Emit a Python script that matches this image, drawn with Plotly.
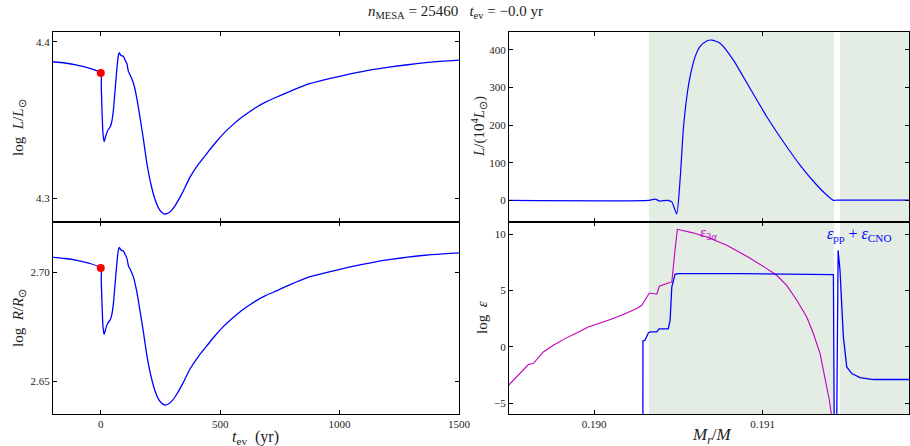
import plotly.graph_objects as go

# ---------------- data ----------------
t_ev = [-200, -150, -100, -50, 0, 2, 5, 9, 14, 22, 32, 39, 46, 53, 60, 67, 74, 78, 83, 88,
        92, 97, 102, 109, 116, 123, 137, 151, 165, 179, 193, 210, 228, 245, 260, 270, 285,
        300, 312, 340, 375, 410, 445, 480, 515, 550, 585, 620, 655, 690, 725, 795, 865, 935,
        1005, 1075, 1145, 1215, 1285, 1360, 1430, 1500]
log_L = [4.3872, 4.3864, 4.3851, 4.3832, 4.3800, 4.3720, 4.3570, 4.3420, 4.3362, 4.3405,
         4.3441, 4.3454, 4.3489, 4.3564, 4.3692, 4.3819, 4.3915, 4.3930, 4.3915, 4.3909,
         4.3910, 4.3900, 4.3883, 4.3862, 4.3809, 4.3787, 4.3735, 4.3639, 4.3510, 4.3373,
         4.3224, 4.3090, 4.2989, 4.2930, 4.2905, 4.2900, 4.2908, 4.2930, 4.2955, 4.3030,
         4.3139, 4.3220, 4.3288, 4.3355, 4.3415, 4.3466, 4.3511, 4.3550, 4.3585, 4.3614,
         4.3639, 4.3685, 4.3728, 4.3756, 4.3781, 4.3804, 4.3824, 4.3840, 4.3853, 4.3866,
         4.3876, 4.3883]
log_R = [2.7068, 2.7063, 2.7055, 2.7042, 2.7020, 2.6967, 2.6862, 2.6757, 2.6716, 2.6747,
         2.6772, 2.6781, 2.6805, 2.6858, 2.6947, 2.7036, 2.7104, 2.7114, 2.7104, 2.7099,
         2.7100, 2.7093, 2.7081, 2.7066, 2.7029, 2.7014, 2.6978, 2.6910, 2.6820, 2.6724,
         2.6620, 2.6526, 2.6455, 2.6414, 2.6397, 2.6393, 2.6399, 2.6414, 2.6432, 2.6484,
         2.6560, 2.6617, 2.6665, 2.6712, 2.6754, 2.6789, 2.6821, 2.6848, 2.6873, 2.6893,
         2.6910, 2.6945, 2.6976, 2.6996, 2.7015, 2.7032, 2.7047, 2.7059, 2.7069, 2.7078,
         2.7084, 2.7089]
t_now = [0.0]
L_now = [4.3800]
R_now = [2.7020]

m_L = [0.18940, 0.190326, 0.190362, 0.190391, 0.190439, 0.190462, 0.190490, 0.190510,
       0.190529, 0.190550, 0.190569, 0.190599, 0.190628, 0.190668, 0.190698, 0.190747,
       0.190826, 0.190925, 0.191024, 0.191122, 0.191221, 0.191320, 0.191379, 0.191419,
       0.191440, 0.191900]
L_1e4 = [0, 0, 3, -2, 0, -5, -36, 54, 187, 275, 328, 381, 408, 423, 425.6, 417, 372.5,
         297, 222, 155.6, 93.7, 40.6, 14, 0, 0.5, 0.5]

m_3a = [0.189490, 0.189561, 0.189611, 0.189640, 0.189699, 0.189759, 0.189828, 0.189897,
        0.189966, 0.190036, 0.190114, 0.190194, 0.190253, 0.190283, 0.190302, 0.190328,
        0.190372, 0.190387, 0.190440, 0.190461, 0.190480, 0.190494, 0.190580, 0.190668,
        0.190787, 0.190905, 0.191024, 0.191083, 0.191142, 0.191202, 0.191261, 0.191300,
        0.191340, 0.191369, 0.191395, 0.191409, 0.191420]
eps_3a = [-3.46, -2.36, -1.56, -1.47, -0.44, 0.15, 0.74, 1.24, 1.78, 2.13, 2.52, 3.02, 3.41,
          3.70, 4.14, 4.79, 4.68, 5.39, 5.68, 5.77, 8.58, 10.44, 10.15, 9.76, 9.02, 8.05,
          6.95, 6.36, 5.47, 4.14, 2.66, 1.19, -0.59, -2.66, -4.73, -6.2, -8.0]

m_pp = [0.1902895, 0.190290, 0.190302, 0.190322, 0.190332, 0.190372, 0.190385, 0.190440,
        0.190451, 0.190461, 0.190480, 0.190498, 0.190865, 0.191419, 0.191424, 0.191438,
        0.191447, 0.191458, 0.191478, 0.191498, 0.191528, 0.191577, 0.191656, 0.191900]
eps_pp = [-8.0, 0.53, 0.60, 1.24, 1.33, 1.33, 1.60, 1.60, 2.37, 5.32, 6.45, 6.51, 6.50, 6.42,
          -8.0, -8.0, 8.58, 6.80, 0.89, -1.77, -2.36, -2.72, -2.89, -2.89]

conv_zones = [(0.190326, 0.191423), (0.191458, 0.19200)]

# ---------------- figure ----------------
FONT = "Liberation Serif"
BLUE = "#0000ff"
MAG = "#bf00bf"
SHADE = "#e4ede4"
TXT = "#222"

fig = go.Figure()
fig.add_trace(go.Scatter(x=t_ev, y=log_L, mode="lines",
                         line=dict(color=BLUE, width=1.3, shape="spline", smoothing=0.6),
                         xaxis="x", yaxis="y", showlegend=False))
fig.add_trace(go.Scatter(x=t_now, y=L_now, mode="markers", marker=dict(color="#ff0000", size=8),
                         xaxis="x", yaxis="y", showlegend=False))
fig.add_trace(go.Scatter(x=t_ev, y=log_R, mode="lines",
                         line=dict(color=BLUE, width=1.3, shape="spline", smoothing=0.6),
                         xaxis="x2", yaxis="y2", showlegend=False))
fig.add_trace(go.Scatter(x=t_now, y=R_now, mode="markers", marker=dict(color="#ff0000", size=8),
                         xaxis="x2", yaxis="y2", showlegend=False))
fig.add_trace(go.Scatter(x=m_L, y=L_1e4, mode="lines",
                         line=dict(color=BLUE, width=1.2, shape="spline", smoothing=0.6),
                         xaxis="x3", yaxis="y3", showlegend=False))
fig.add_trace(go.Scatter(x=m_3a, y=eps_3a, mode="lines", line=dict(color=MAG, width=1.1),
                         xaxis="x4", yaxis="y4", showlegend=False))
fig.add_trace(go.Scatter(x=m_pp, y=eps_pp, mode="lines", line=dict(color=BLUE, width=1.3),
                         xaxis="x4", yaxis="y4", showlegend=False))

for (a, b) in conv_zones:
    for xr, yr in (("x3", "y3 domain"), ("x4", "y4 domain")):
        fig.add_shape(type="rect", xref=xr, yref=yr, x0=a, x1=b, y0=0, y1=1,
                      fillcolor=SHADE, line=dict(width=0), layer="below")

W, H = 910, 446
LX = [53 / W, 459 / W]
RX = [509 / W, 909 / W]
TOP = [1 - 222 / H, 1 - 32 / H]
BOT = [1 - 414 / H, 1 - 222 / H]

tickfont = dict(family=FONT, size=11, color=TXT)


def ax(**kw):
    d = dict(showline=True, linecolor="black", linewidth=1, mirror="allticks",
             ticks="inside", ticklen=4, tickcolor="black", showgrid=False, zeroline=False,
             tickfont=tickfont, automargin=False)
    d.update(kw)
    return d


fig.update_layout(
    width=W, height=H, margin=dict(l=0, r=0, t=0, b=0, autoexpand=False),
    paper_bgcolor="white", plot_bgcolor="white",
    font=dict(family=FONT),
    xaxis=ax(domain=LX, anchor="y", range=[-200, 1500], tickvals=[0, 500, 1000, 1500],
             showticklabels=False),
    yaxis=ax(domain=TOP, anchor="x", range=[4.2849, 4.4062], tickvals=[4.3, 4.4],
             tickformat=".1f"),
    xaxis2=ax(domain=LX, anchor="y2", range=[-200, 1500], tickvals=[0, 500, 1000, 1500]),
    yaxis2=ax(domain=BOT, anchor="x2", range=[2.6352, 2.723], tickvals=[2.65, 2.70],
              tickformat=".2f"),
    xaxis3=ax(domain=RX, anchor="y3", range=[0.189496, 0.191867], tickvals=[0.190, 0.191],
              showticklabels=False),
    yaxis3=ax(domain=TOP, anchor="x3", range=[-57.6, 447], tickvals=[0, 100, 200, 300, 400]),
    xaxis4=ax(domain=RX, anchor="y4", range=[0.189496, 0.191867], tickvals=[0.190, 0.191],
              tickformat=".3f"),
    yaxis4=ax(domain=BOT, anchor="x4", range=[-5.95, 11.09], tickvals=[-5, 0, 5, 10]),
)


def label(text, x, y, size=15, angle=0, color=TXT):
    fig.add_annotation(text=text, xref="paper", yref="paper", x=x / W, y=1 - y / H,
                       showarrow=False, textangle=angle, xanchor="center", yanchor="middle",
                       font=dict(family=FONT, size=size, color=color))


label("<i>n</i><sub>MESA</sub> = 25460   <i>t</i><sub>ev</sub> = −0.0 yr", 455, 12, size=15)
label("log  <i>L</i>/<i>L</i><sub>⊙</sub>", 19, 128, angle=-90)
label("log  <i>R</i>/<i>R</i><sub>⊙</sub>", 19, 318, angle=-90)
label("<i>L</i>/(10<sup>4</sup><i>L</i><sub>⊙</sub>)", 479, 127, angle=-90)
label("log  <i>ε</i>", 482, 318, angle=-90)
label("<i>t</i><sub>ev</sub>  (yr)", 255, 437, size=16)
label("<i>M<sub>r</sub></i>/<i>M</i>", 712, 436, size=17)

fig.add_annotation(text="<i>ε</i><sub>3<i>α</i></sub>", xref="x4", yref="y4", x=0.19068, y=10.1,
                   showarrow=False, font=dict(family=FONT, size=15, color=MAG))
fig.add_annotation(text="<i>ε</i><sub>pp</sub> + <i>ε</i><sub>CNO</sub>", xref="x4", yref="y4",
                   x=0.191571, y=10.0, showarrow=False, font=dict(family=FONT, size=16, color=BLUE))

fig.write_html("out.html")
